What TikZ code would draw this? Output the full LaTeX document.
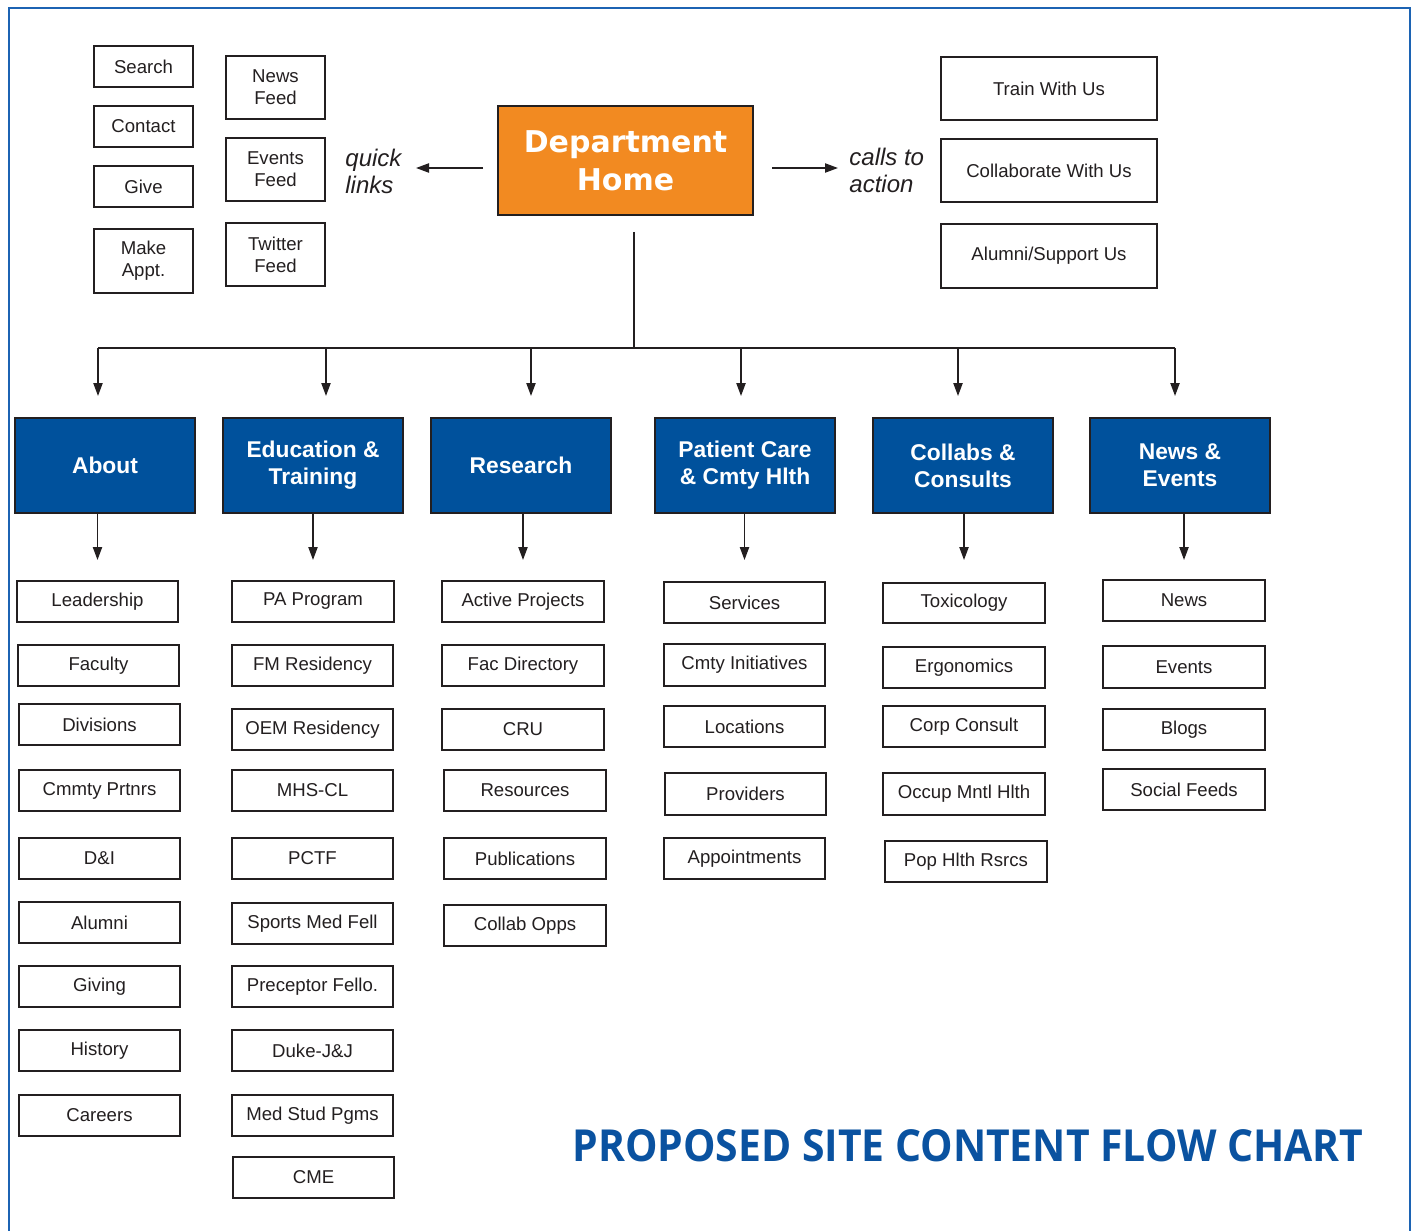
\documentclass[tikz,border=0pt]{standalone}
\usepackage{fontspec}
\setmainfont{Liberation Sans}
\newfontfamily\homefont{DejaVu Sans}
\newfontfamily\titlefont{Open Sans}
\usetikzlibrary{arrows.meta}
\definecolor{ink}{HTML}{231F20}
\definecolor{hdrblue}{HTML}{00519C}
\definecolor{framblue}{HTML}{1C63B3}
\definecolor{orng}{HTML}{F28A21}
\definecolor{ttlblue}{HTML}{0A52A0}
\newcommand\bxx[7][lbox]{%
  \node[#1, minimum width={(#5-#3)*0.5pt}, minimum height={(#6-#4)*0.5pt}] (#2) at ({(#3+#5)/2},{(#4+#6)/2}) {#7};}
\begin{document}
\begin{tikzpicture}[x=0.5pt,y=-0.5pt,
  lbox/.style={draw=ink, line width=1pt, fill=white, inner sep=0pt, align=center, text=ink,
    font=\fontsize{9.3}{11}\selectfont},
  hbox/.style={draw=ink, line width=1pt, fill=hdrblue, inner sep=0pt, align=center, text=white,
    font=\fontsize{11.4}{13.5}\selectfont\bfseries},
  homebox/.style={draw=ink, line width=1pt, fill=orng, inner sep=0pt, align=center, text=white,
    font=\homefont\fontsize{15}{19}\selectfont\bfseries},
  note/.style={inner sep=0pt, align=left, text=ink, font=\fontsize{12}{13.5}\selectfont\itshape},
  conn/.style={draw=ink, line width=0.8pt},
  arr/.style={conn, -{Triangle[length=6.5pt,width=4.6pt]}},
  frm/.style={draw=framblue, line width=1.4pt}
]
\useasboundingbox (0,0) rectangle (1417,1230);
\draw[frm] (9,1232) -- (9,8) -- (1410,8) -- (1410,1232);

% quick links
\bxx{search}{94}{46}{193}{87}{Search}
\bxx{contact}{94}{106}{193}{147}{Contact}
\bxx{give}{94}{166}{193}{207}{Give}
\bxx{appt}{94}{229}{193}{293}{Make\\Appt.}
\bxx{newsfeed}{226}{56}{325}{119}{News\\Feed}
\bxx{eventsfeed}{226}{138}{325}{201}{Events\\Feed}
\bxx{twitter}{226}{223}{325}{286}{Twitter\\Feed}

% calls to action
\bxx{train}{941}{57}{1157}{120}{Train With Us}
\bxx{collabus}{941}{139}{1157}{202}{Collaborate With Us}
\bxx{alumsup}{941}{224}{1157}{288}{Alumni/Support Us}

% home
\bxx[homebox]{home}{498}{106}{753}{215}{Department\\Home}

\node[note, anchor=west] (ql) at (345,171) {quick\\links};
\node[note, anchor=west] (cta) at (849,170) {calls to\\action};

% headers
\bxx[hbox]{about}{15}{418}{195}{513}{About}
\bxx[hbox]{edu}{223}{418}{403}{513}{Education \&\\Training}
\bxx[hbox]{res}{431}{418}{611}{513}{Research}
\bxx[hbox]{pat}{655}{418}{835}{513}{Patient Care\\\& Cmty Hlth}
\bxx[hbox]{col}{873}{418}{1053}{513}{Collabs \&\\Consults}
\bxx[hbox]{nws}{1090}{418}{1270}{513}{News \&\\Events}

% About column
\bxx{lead}{17}{581}{178}{622}{Leadership}
\bxx{fac}{18}{645}{179}{686}{Faculty}
\bxx{div}{19}{704}{180}{745}{Divisions}
\bxx{cmp}{19}{770}{180}{811}{Cmmty Prtnrs}
\bxx{dni}{19}{838}{180}{879}{D\&I}
\bxx{alum}{19}{902}{180}{943}{Alumni}
\bxx{giving}{19}{966}{180}{1007}{Giving}
\bxx{hist}{19}{1030}{180}{1071}{History}
\bxx{car}{19}{1095}{180}{1136}{Careers}

% Education column
\bxx{pa}{232}{581}{394}{622}{PA Program}
\bxx{fm}{232}{645}{393}{686}{FM Residency}
\bxx{oem}{232}{709}{393}{750}{OEM Residency}
\bxx{mhs}{232}{770}{393}{811}{MHS-CL}
\bxx{pctf}{232}{838}{393}{879}{PCTF}
\bxx{smf}{232}{903}{393}{944}{Sports Med Fell}
\bxx{pre}{232}{966}{393}{1007}{Preceptor Fello.}
\bxx{duke}{232}{1030}{393}{1071}{Duke-J\&J}
\bxx{msp}{232}{1095}{393}{1136}{Med Stud Pgms}
\bxx{cme}{233}{1157}{394}{1198}{CME}

% Research column
\bxx{act}{442}{581}{604}{622}{Active Projects}
\bxx{facdir}{442}{645}{604}{686}{Fac Directory}
\bxx{cru}{442}{709}{604}{750}{CRU}
\bxx{rsrc}{444}{770}{606}{811}{Resources}
\bxx{pub}{444}{838}{606}{879}{Publications}
\bxx{copps}{444}{905}{606}{946}{Collab Opps}

% Patient care column
\bxx{serv}{664}{582}{825}{623}{Services}
\bxx{cini}{664}{644}{825}{686}{Cmty Initiatives}
\bxx{loc}{664}{706}{825}{747}{Locations}
\bxx{prov}{665}{773}{826}{815}{Providers}
\bxx{appts}{664}{838}{825}{879}{Appointments}

% Collabs column
\bxx{tox}{883}{583}{1045}{623}{Toxicology}
\bxx{erg}{883}{647}{1045}{688}{Ergonomics}
\bxx{corp}{883}{706}{1045}{747}{Corp Consult}
\bxx{omh}{883}{773}{1045}{815}{Occup Mntl Hlth}
\bxx{phr}{885}{841}{1047}{882}{Pop Hlth Rsrcs}

% News column
\bxx{news}{1103}{580}{1265}{621}{News}
\bxx{events}{1103}{646}{1265}{688}{Events}
\bxx{blogs}{1103}{709}{1265}{750}{Blogs}
\bxx{social}{1103}{769}{1265}{810}{Social Feeds}

% title
\node[inner sep=0pt, anchor=south west, text=ttlblue] (title) at (572,1162)
  {\resizebox{395.5pt}{16pt}{\titlefont\bfseries PROPOSED SITE CONTENT FLOW CHART}};

% connectors from home
\coordinate (qlA) at (416,168);
\coordinate (ctaA) at (838,168);
\draw[arr, shorten <=7pt] (home.west |- qlA) -- (qlA);
\draw[arr, shorten <=9pt] (home.east |- ctaA) -- (ctaA);
\coordinate (bus) at (634,348);
\coordinate (busL) at (98,348);
\coordinate (busR) at (1175,348);
\coordinate (b2) at (326,348);
\coordinate (b3) at (531,348);
\coordinate (b4) at (741,348);
\coordinate (b5) at (958,348);
\draw[conn, shorten <=8pt] (home.south -| bus) -- (bus);
\draw[conn] (busL) -- (busR);
\draw[arr, shorten >=10.5pt] (busL) -- (busL |- about.north);
\draw[arr, shorten >=10.5pt] (b2) -- (b2 |- edu.north);
\draw[arr, shorten >=10.5pt] (b3) -- (b3 |- res.north);
\draw[arr, shorten >=10.5pt] (b4) -- (b4 |- pat.north);
\draw[arr, shorten >=10.5pt] (b5) -- (b5 |- col.north);
\draw[arr, shorten >=10.5pt] (busR) -- (busR |- nws.north);

% header to lists
\draw[arr, shorten >=10pt] (about.south -| lead.north) -- (lead.north);
\draw[arr, shorten >=10pt] (edu.south -| pa.north) -- (pa.north);
\draw[arr, shorten >=10pt] (res.south -| act.north) -- (act.north);
\draw[arr, shorten >=10.5pt] (pat.south -| serv.north) -- (serv.north);
\draw[arr, shorten >=11pt] (col.south -| tox.north) -- (tox.north);
\draw[arr, shorten >=9.5pt] (nws.south -| news.north) -- (news.north);
\end{tikzpicture}
\end{document}
